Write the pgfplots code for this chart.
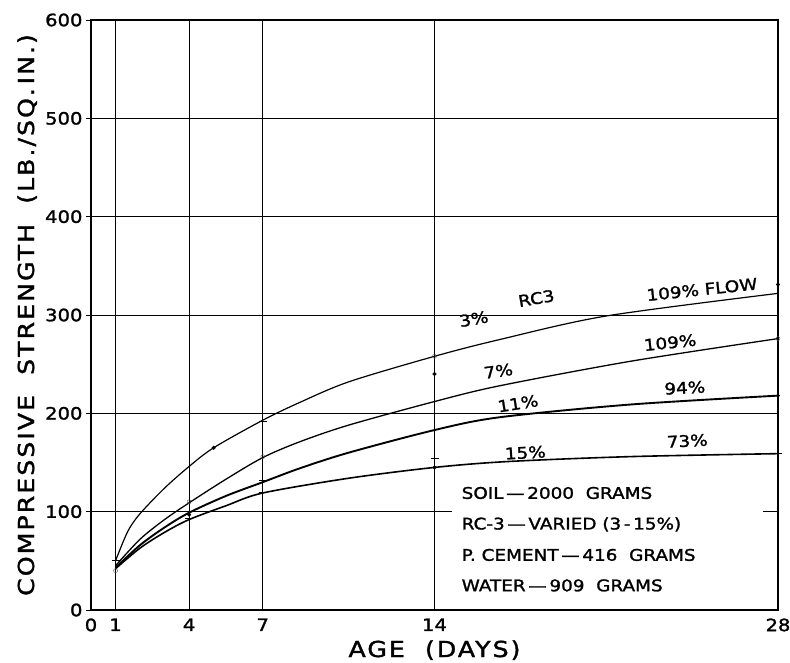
\documentclass[border=0pt]{standalone}
\usepackage{fontspec}
\setmainfont{DejaVu Sans}[FakeStretch=1.15, FakeBold=1.5]
\usepackage{pgfplots}
\pgfplotsset{compat=1.18}
\begin{document}
\begin{tikzpicture}
\path[use as bounding box] (-91pt,-52pt) rectangle (699pt,610pt);
\begin{axis}[
  scale only axis, width=687pt, height=590pt,
  anchor=south west, at={(0pt,0pt)},
  xmin=0, xmax=28, ymin=0, ymax=600,
  xtick={0,1,4,7,14,28},
  ytick={0,100,...,600},
  extra y ticks={200,300,400,500},
  extra y tick labels={},
  extra y tick style={grid=major, major tick length=0pt},
  xmajorgrids,
  grid style={black, line width=1pt},
  axis line style={black, line width=1.7pt},
  tick style={black, line width=1pt},
  major tick length=5pt,
  tick align=outside,
  xtick style={draw=none},
  ytick pos=left,
  /pgf/number format/assume math mode=true,
  ticklabel style={font=\fontsize{17}{20}\selectfont},
  xlabel={AGE\ \ (DAYS)},
  ylabel={COMPRESSIVE\ \ STRENGTH\ \ (LB./SQ.\,IN.)},
  label style={font=\fontsize{22}{25}\selectfont\addfontfeature{LetterSpace=9}},
  xlabel style={at={(axis description cs:0.5,-0.068)}, anchor=center},
  ylabel style={at={(axis description cs:-0.093,0.5)}, anchor=center},
  clip=false,
]
% partial 100 grid line
\addplot[black, line width=1pt] coordinates {(0,100) (14.7,100)};
\addplot[black, line width=1pt] coordinates {(27.4,100) (28,100)};
% curves
\addplot[black, line width=1.2pt, smooth] coordinates {
(1,50) (1.5,80) (2,98) (3,124) (4,146) (5,165) (7,193) (8.5,211) (10.5,232) (14,258) (16.65,275) (21,299) (28,322)};
\addplot[black, line width=1.3pt, smooth] coordinates {
(1,45) (2,72) (3,92) (4,109) (5.5,133) (7,155) (8.5,171) (10.5,188) (14,212) (16.65,228) (22,253) (28,276)};
\addplot[black, line width=1.9pt, smooth] coordinates {
(1,43) (2,66) (3,84) (4,99) (5.5,116) (7,130) (8.5,144) (10.5,160) (14,183) (16.65,196) (22,209) (28,218)};
\addplot[black, line width=1.6pt, smooth] coordinates {
(1,42) (2,63) (3,79) (4,92) (5.5,106) (7,119) (10.5,134) (14,145) (17,151) (22,156) (28,159)};
% marks
\addplot[only marks, mark=*, mark size=1.8pt, black] coordinates {
(5,165) (14,240) (28,331) (4,97) (14,145) (28,218)};
\addplot[only marks, mark=o, mark size=2pt, black!70] coordinates {
(1,40) (7,156) (14,258) (28,276) (4,110)};
\addplot[only marks, mark=+, mark size=4pt, black, line width=1pt] coordinates {
(1,50) (4,93) (7,132) (7,120) (7,192) (14,154) (28,159)};
% curve labels
\begin{scope}[every node/.style={font=\fontsize{16}{18}\selectfont, inner sep=0pt}]
\node[rotate=10] at (axis cs:15.6,296) {3\%};
\node[rotate=10] at (axis cs:18.15,317) {RC3};
\node[rotate=6] at (axis cs:24.9,326) {109\% FLOW};
\node[rotate=8] at (axis cs:16.6,243) {7\%};
\node[rotate=6] at (axis cs:23.6,272) {109\%};
\node[rotate=9] at (axis cs:17.4,210) {11\%};
\node[rotate=3] at (axis cs:24.2,226) {94\%};
\node[rotate=3] at (axis cs:17.7,160) {15\%};
\node[rotate=3] at (axis cs:24.3,172) {73\%};
\end{scope}
% note
\begin{scope}[every node/.style={font=\fontsize{16}{18}\selectfont, anchor=west, inner sep=0pt}]
\node at (axis cs:15.1,119) {SOIL\,---\,2000\ \ GRAMS};
\node at (axis cs:15.1,87) {RC-3\,---\,VARIED (3\,-\,15\%)};
\node at (axis cs:15.1,56) {P. CEMENT\,---\,416\ \ GRAMS};
\node at (axis cs:15.1,25) {WATER\,---\,909\ \ GRAMS};
\end{scope}
\end{axis}
\end{tikzpicture}
\end{document}
